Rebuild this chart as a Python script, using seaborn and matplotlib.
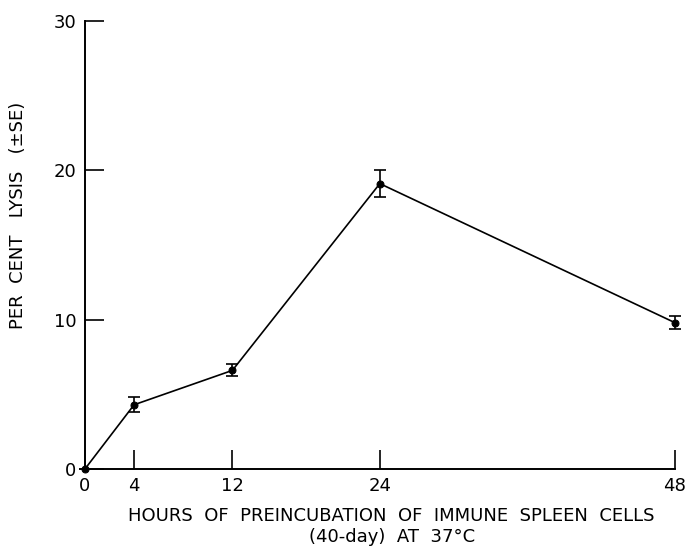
import matplotlib

matplotlib.use("Agg")
import matplotlib.pyplot as plt
import seaborn as sns
import pandas as pd

sns.set_style("ticks")
plt.rcParams["font.family"] = ["DejaVu Sans"]
plt.rcParams["text.color"] = "black"
plt.rcParams["axes.labelcolor"] = "black"
plt.rcParams["xtick.color"] = "black"
plt.rcParams["ytick.color"] = "black"

# data
hours = [0, 4, 12, 24, 48]
lysis = [0.0, 4.3, 6.6, 19.1, 9.8]
se = [0.0, 0.5, 0.4, 0.9, 0.45]

df = pd.DataFrame({"hours": hours, "lysis": lysis, "se": se})

fig = plt.figure(figsize=(6.85, 5.46), dpi=100)
ax = fig.add_axes([0.124, 0.141, 0.861, 0.821])

sns.lineplot(
    data=df, x="hours", y="lysis", ax=ax, color="black", clip_on=False,
    linewidth=1.2, marker="o", markersize=5, markeredgecolor="black",
)
ax.errorbar(
    df["hours"], df["lysis"], yerr=df["se"], fmt="none", clip_on=False,
    ecolor="black", elinewidth=1.2, capsize=4, capthick=1.2,
)

ax.set_xlim(0, 48)
ax.set_ylim(0, 30)
ax.set_xticks(hours)
ax.set_yticks([0, 10, 20, 30])
ax.tick_params(direction="in", length=14, width=1.2, labelsize=13, pad=6)
for s in ["top", "right"]:
    ax.spines[s].set_visible(False)
for s in ["left", "bottom"]:
    ax.spines[s].set_linewidth(1.4)
    ax.spines[s].set_color("black")

ax.set_xlabel(
    "HOURS  OF  PREINCUBATION  OF  IMMUNE  SPLEEN  CELLS\n(40-day)  AT  37°C",
    fontsize=13, linespacing=1.2, va="top",
)
ax.xaxis.set_label_coords(0.52, -0.085)
ax.set_ylabel("PER  CENT   LYSIS   (±SE)", fontsize=13, va="center")
ax.yaxis.set_label_coords(-0.114, 0.565)

fig.savefig("out.png", dpi=100)
